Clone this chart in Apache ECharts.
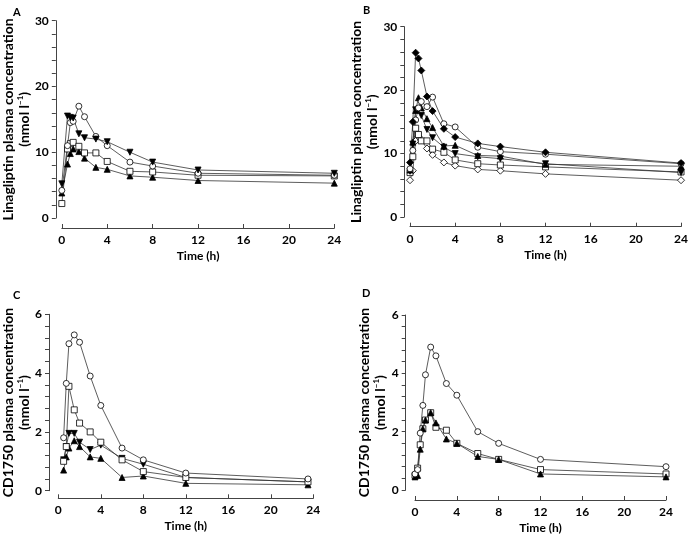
<!DOCTYPE html>
<html><head><meta charset="utf-8">
<script src="https://cdn.jsdelivr.net/npm/echarts@6/dist/echarts.min.js"></script>
<style>html,body{margin:0;padding:0;background:#fff}#c{width:691px;height:535px}</style>
</head><body><div id="c"></div>
<script>
// Panel A – linagliptin
const timesA = [0, 0.5, 0.75, 1, 1.5, 2, 3, 4, 6, 8, 12, 24];
const aCircle  = [4.2, 11.0, 14.5, 14.7, 17.0, 15.4, 12.4, 11.0, 8.5, 7.9, 6.8, 6.5];
const aTriDown = [5.2, 15.5, 15.3, 15.2, 12.8, 12.2, 12.0, 11.6, 10.0, 8.5, 7.3, 6.8];
const aSquare  = [2.2, 10.5, 11.3, 11.5, 10.9, 9.9, 9.9, 8.6, 7.1, 7.0, 6.5, 6.4];
const aTriUp   = [3.8, 8.2, 9.8, 10.5, 10.1, 9.1, 7.7, 7.4, 6.4, 6.2, 5.7, 5.3];
// Panel B – linagliptin
const timesB = [0, 0.25, 0.5, 0.75, 1, 1.5, 2, 3, 4, 6, 8, 12, 24];
const bDiamondFilled = [8.6, 15.0, 25.9, 25.0, 23.1, 19.0, 16.7, 13.9, 12.6, 11.6, 11.1, 10.2, 8.5];
const bCircle        = [7.6, 10.5, 15.3, 17.2, 18.2, 17.4, 18.9, 14.7, 14.2, 11.0, 10.3, 9.9, 8.4];
const bTriUp         = [7.4, 11.8, 16.8, 18.8, 17.2, 15.5, 14.1, 11.2, 11.3, 9.7, 9.6, 8.3, 8.0];
const bTriDown       = [7.2, 11.5, 16.9, 17.0, 16.0, 13.8, 12.5, 11.0, 10.0, 9.5, 9.2, 8.4, 7.0];
const bSquare        = [7.0, 9.5, 14.0, 13.0, 12.0, 12.0, 10.7, 10.2, 9.0, 8.4, 8.2, 7.9, 7.1];
const bDiamondOpen   = [5.8, 7.3, 12.0, 12.7, 12.1, 10.8, 9.8, 8.6, 8.1, 7.5, 7.3, 6.8, 5.8];
// Panel C – CD1750
const timesC = [0.5, 0.75, 1, 1.5, 2, 3, 4, 6, 8, 12, 23.5];
const cCircle  = [1.8, 3.65, 5.0, 5.3, 5.05, 3.9, 2.9, 1.45, 1.05, 0.6, 0.4];
const cSquare  = [1.0, 1.5, 3.55, 2.75, 2.3, 2.0, 1.65, 1.05, 0.65, 0.45, 0.3];
const cTriDown = [1.05, 1.5, 1.95, 1.95, 1.65, 1.4, 1.55, 1.1, 0.9, 0.45, 0.3];
const cTriUp   = [0.7, 1.15, 1.45, 1.7, 1.5, 1.15, 1.1, 0.45, 0.5, 0.25, 0.2];
// Panel D – CD1750
const timesD = [0, 0.25, 0.5, 0.75, 1, 1.5, 2, 3, 4, 6, 8, 12, 24];
const dCircle = [0.55, 0.7, 1.95, 2.9, 3.95, 4.9, 4.6, 3.65, 3.25, 2.0, 1.6, 1.05, 0.8];
const dSquare = [0.5, 0.75, 1.55, 2.1, 2.4, 2.65, 2.15, 2.05, 1.6, 1.25, 1.05, 0.7, 0.55];
const dTriUp  = [0.45, 0.5, 1.4, 2.1, 2.4, 2.65, 2.3, 1.75, 1.6, 1.15, 1.05, 0.55, 0.45];
// Axis ticks
const xTicks = [0, 4, 8, 12, 16, 20, 24];
const yTicksLina = [0, 10, 20, 30];
const yTicksCD = [0, 2, 4, 6];
const panelLabels = ['A', 'B', 'C', 'D'];

const FONT = 'Lato';
const markers = {
  circle:   {symbol: 'circle', size: 6, fill: '#fff', rot: 0},
  square:   {symbol: 'rect', size: 6, fill: '#fff', rot: 0},
  triUp:    {symbol: 'triangle', size: 6, fill: '#000', rot: 0},
  triDown:  {symbol: 'triangle', size: 6, fill: '#000', rot: 180},
  diamondF: {symbol: 'diamond', size: 7, fill: '#000', rot: 0},
  diamondO: {symbol: 'diamond', size: 7, fill: '#fff', rot: 0}
};
function mk(idx, times, vals, kind) {
  const m = markers[kind];
  return {
    type: 'line', xAxisIndex: idx, yAxisIndex: idx,
    data: times.map((t, i) => [t, vals[i]]),
    symbol: m.symbol, symbolSize: m.size, symbolRotate: m.rot,
    showAllSymbol: true, animation: false,
    lineStyle: {color: '#333', width: 0.8},
    itemStyle: {color: m.fill, borderColor: '#000', borderWidth: 0.8, opacity: 1}
  };
}
const grids = [
  {left: 55.3, top: 20.7, width: 279, height: 197.3, yOff: 6, xOff: 10},
  {left: 410, top: 26.7, width: 275, height: 190.3, yOff: 5.7, xOff: 9.7},
  {left: 58.3, top: 314.3, width: 255, height: 176.4, yOff: 9.3, xOff: 7.6},
  {left: 415, top: 315, width: 251, height: 176, yOff: 9.3, xOff: 10}
];
const yNames = [
  '{a|Linagliptin plasma concentration}\n{a|(nmol l}{s|−1}{a|)}',
  '{a|Linagliptin plasma concentration}\n{a|(nmol l}{s|−1}{a|)}',
  '{a|CD1750 plasma concentration}\n{a|(nmol l}{s|−1}{a|)}',
  '{a|CD1750 plasma concentration}\n{a|(nmol l}{s|−1}{a|)}'
];
const yMax = [yTicksLina[3], yTicksLina[3], yTicksCD[3], yTicksCD[3]];
const yInt = [yTicksLina[1], yTicksLina[1], yTicksCD[1], yTicksCD[1]];
const axisCol = '#444';
const option = {
  backgroundColor: '#fff',
  animation: false,
  title: panelLabels.map((t, i) => ({
    text: t, left: [8, 358, 8, 357][i], top: [2, 0, 285, 283][i],
    textStyle: {fontFamily: FONT, fontWeight: 'bold', fontSize: 11, color: '#000'}
  })),
  grid: grids.map(g => ({left: g.left, top: g.top, width: g.width, height: g.height})),
  xAxis: grids.map((g, i) => ({
    type: 'value', gridIndex: i, min: xTicks[0], max: xTicks[xTicks.length - 1], interval: 4,
    offset: g.xOff,
    name: 'Time (h)', nameLocation: 'middle', nameGap: 22,
    nameTextStyle: {fontFamily: FONT, fontWeight: 'bold', fontSize: 12, color: '#000'},
    axisLine: {show: true, onZero: false, lineStyle: {color: axisCol, width: 1}},
    axisTick: {show: true, inside: true, length: 4, lineStyle: {color: axisCol}},
    axisLabel: {fontFamily: FONT, fontWeight: 'bold', fontSize: 12, color: '#000', margin: 6},
    splitLine: {show: false}
  })),
  yAxis: grids.map((g, i) => ({
    type: 'value', gridIndex: i, min: 0, max: yMax[i], interval: yInt[i],
    offset: g.yOff,
    name: yNames[i], nameLocation: 'middle', nameGap: 16,
    nameTextStyle: {
      fontFamily: FONT, fontWeight: 'bold', fontSize: 14, color: '#000',
      rich: {
        a: {fontFamily: FONT, fontWeight: 'bold', fontSize: 14, color: '#000', lineHeight: 16},
        s: {fontFamily: FONT, fontWeight: 'bold', fontSize: 8, color: '#000', verticalAlign: 'top', lineHeight: 16, padding: [0, 0, 6, 0]}
      }
    },
    axisLine: {show: true, onZero: false, lineStyle: {color: axisCol, width: 1}},
    axisTick: {show: true, length: 4, lineStyle: {color: axisCol}},
    minorTick: {show: true, splitNumber: 5, length: 4, lineStyle: {color: axisCol}},
    axisLabel: {fontFamily: FONT, fontWeight: 'bold', fontSize: 12, color: '#000', margin: 7},
    splitLine: {show: false}, minorSplitLine: {show: false}
  })),
  series: [
    mk(0, timesA, aTriUp, 'triUp'),
    mk(0, timesA, aSquare, 'square'),
    mk(0, timesA, aCircle, 'circle'),
    mk(0, timesA, aTriDown, 'triDown'),
    mk(1, timesB, bDiamondOpen, 'diamondO'),
    mk(1, timesB, bSquare, 'square'),
    mk(1, timesB, bTriDown, 'triDown'),
    mk(1, timesB, bTriUp, 'triUp'),
    mk(1, timesB, bCircle, 'circle'),
    mk(1, timesB, bDiamondFilled, 'diamondF'),
    mk(2, timesC, cTriUp, 'triUp'),
    mk(2, timesC, cTriDown, 'triDown'),
    mk(2, timesC, cSquare, 'square'),
    mk(2, timesC, cCircle, 'circle'),
    mk(3, timesD, dSquare, 'square'),
    mk(3, timesD, dTriUp, 'triUp'),
    mk(3, timesD, dCircle, 'circle')
  ]
};
const chart = echarts.init(document.getElementById('c'), null, {renderer: 'canvas'});
chart.setOption(option);
</script>
</body></html>
